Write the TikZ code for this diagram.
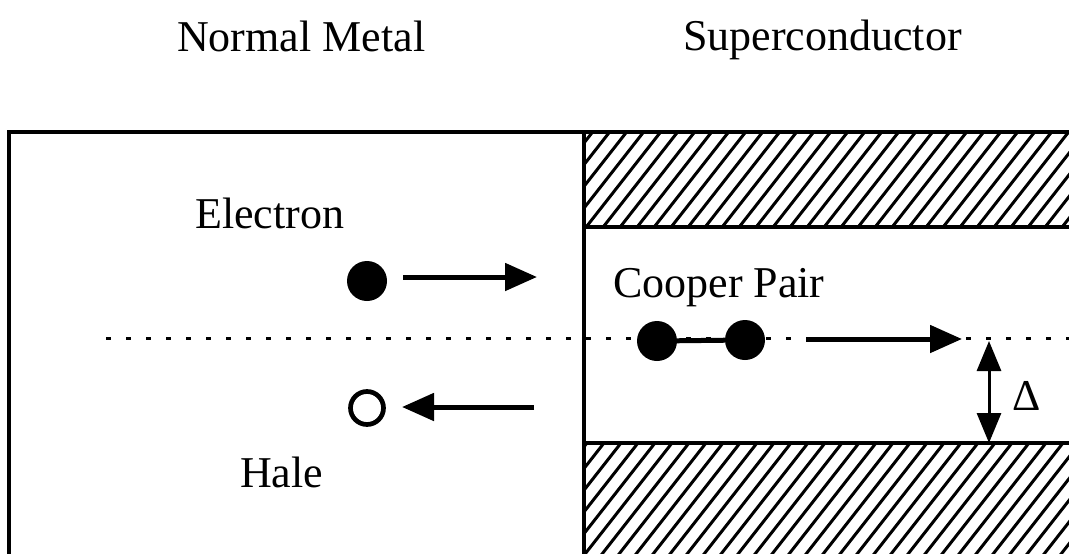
\documentclass[tikz,border=0pt]{standalone}
\usepackage{fontspec}
\setmainfont{Liberation Serif}
\usetikzlibrary{arrows.meta}
\begin{document}
\begin{tikzpicture}[x=1pt,y=-1pt,
  lbl/.style={font=\fontsize{44}{50}\selectfont, inner sep=0pt, anchor=base west},
  frame/.style={line width=3.5pt},
  hatchline/.style={line width=3pt},
  dotline/.style={line width=3pt, dash pattern=on 5pt off 15pt},
  bigarrow/.style={line width=5pt, -{Triangle[length=32pt,width=27pt]}},
  gaparrow/.style={line width=3pt, {Triangle[length=30pt,width=24pt]}-{Triangle[length=30pt,width=24pt]}},
  particle/.style={circle, fill=black, minimum size=40pt, inner sep=0pt},
  holestyle/.style={circle, draw=black, line width=4.7pt, minimum size=33pt, inner sep=0pt, fill=white},
]
\useasboundingbox (0,0) rectangle (1069,554);

% region titles
\node[lbl] (tnormal) at (177,51) {Normal Metal};
\node[lbl] (tsuper) at (683,50) {Superconductor};

% hatched bands of the superconductor (above and below the gap)
\begin{scope}
  \clip (584,132) rectangle (1075,227) (584,443) rectangle (1075,560);
  \foreach \k in {0,...,62}
    \draw[hatchline] ({90+\k*17},600) -- ++(470,-600);
\end{scope}

% outline of the junction
\draw[frame] (9,560) -- (9,132) -- (1075,132);
\draw[frame] (584,132) -- (584,560);
\draw[frame] (584,227) -- (1075,227);
\draw[frame] (584,443) -- (1075,443);

% Fermi level
\coordinate (fstart) at (106,338);
\coordinate (fend) at (1075,338);
\draw[dotline] (fstart) -- (fend);

% incoming electron
\node[lbl] (telectron) at (195,228) {Electron};
\node[particle] (electron) at (367,281) {};
\coordinate (ea) at (403,277);
\coordinate (eb) at (537,277);
\draw[bigarrow] (ea) -- (eb);

% reflected hole
\node[holestyle] (hole) at (367,408) {};
\coordinate (ha) at (534,407);
\coordinate (hb) at (402,407);
\draw[bigarrow] (ha) -- (hb);
\node[lbl] (thole) at (240,487) {Hale};

% Cooper pair
\node[lbl] (tcooper) at (613,297) {Cooper Pair};
\node[particle] (p1) at (657,341) {};
\node[particle] (p2) at (745,340) {};
\draw[line width=5pt] (p1) -- (p2);
\coordinate (ca) at (806,339);
\coordinate (cb) at (962,339);
\draw[bigarrow] (ca) -- (cb);

% gap
\coordinate (gtop) at (989,341);
\coordinate (gbot) at (989,443);
\draw[gaparrow] (gtop) -- (gbot);
\node[lbl] (tgap) at (1012,410) {Δ};
\end{tikzpicture}
\end{document}
